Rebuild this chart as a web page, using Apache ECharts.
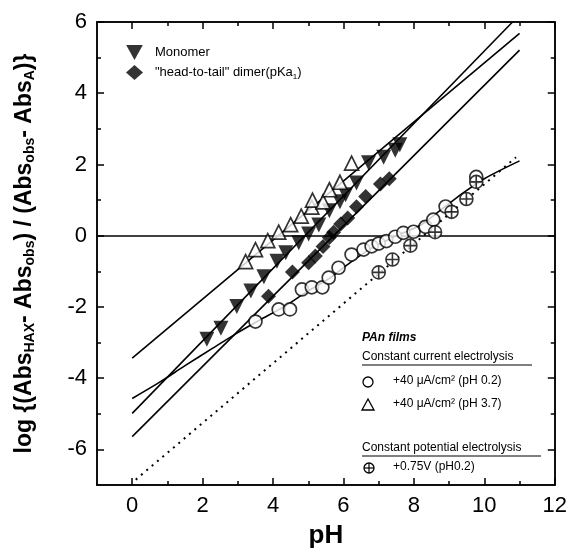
<!DOCTYPE html>
<html><head><meta charset="utf-8">
<script src="https://cdn.jsdelivr.net/npm/echarts@6/dist/echarts.min.js"></script>
<style>html,body{margin:0;padding:0;background:#fff}#c{width:570px;height:554px}</style>
</head><body><div id="c"></div>
<script>
// ---- data ----
var xMajorTicks = [0, 2, 4, 6, 8, 10, 12];
var xMinorTicks = [1, 3, 5, 7, 9, 11];
var yMajorTicks = [-6, -4, -2, 0, 2, 4, 6];
var yMinorTicks = [-5, -3, -1, 1, 3, 5];

var monomer = [[2.12,-2.91],[2.52,-2.6],[2.97,-1.99],[3.37,-1.55],[3.74,-1.15],[4.11,-0.72],[4.36,-0.48],[4.73,-0.2],[5.01,0.05],[5.3,0.3],[5.6,0.7],[5.9,0.95],[6.06,1.15],[6.37,1.48],[6.71,2.05],[7.14,2.2],[7.47,2.4],[7.6,2.55]];
var dimer = [[3.87,-1.7],[4.55,-1.02],[5.01,-0.76],[5.2,-0.57],[5.42,-0.3],[5.6,-0.05],[5.72,0.1],[5.92,0.33],[6.12,0.5],[6.37,0.81],[6.63,1.1],[7.05,1.45],[7.3,1.6]];
var openTri = [[3.22,-0.73],[3.5,-0.39],[3.85,-0.14],[4.16,0.1],[4.5,0.31],[4.8,0.55],[5.1,0.8],[5.12,1.0],[5.42,0.95],[5.6,1.29],[5.9,1.5],[6.23,2.04]];
var circles = [[3.5,-2.41],[4.16,-2.07],[4.48,-2.07],[4.82,-1.51],[5.1,-1.45],[5.4,-1.45],[5.58,-1.18],[5.86,-0.9],[6.23,-0.53],[6.57,-0.39],[6.8,-0.3],[7.0,-0.22],[7.22,-0.15],[7.47,-0.03],[7.7,0.08],[7.99,0.11],[8.33,0.25],[8.55,0.45],[8.9,0.82],[9.77,1.65]];
var crossCircles = [[7.0,-1.03],[7.39,-0.67],[7.9,-0.28],[8.6,0.1],[9.07,0.67],[9.49,1.03],[9.77,1.51]];

var fitOpenTri = [[0,-3.44],[11,5.68]];
var fitMonomer = [[0,-4.99],[10.8,6]];
var fitDimer = [[0,-5.64],[11,5.21]];
var fitCircles = [[0,-4.57],[0.77,-4.12],[1.5,-3.65],[2.3,-3.15],[3.0,-2.72],[3.6,-2.38],[4.3,-2.0],[5.0,-1.55],[5.6,-1.2],[6.2,-0.75],[6.8,-0.35],[7.5,0.0],[8.2,0.3],[8.8,0.75],[9.4,1.2],[10.0,1.6],[11,2.1]];
var fitCrossDotted = [[0.1,-6.85],[10.9,2.2]];

// ---- chart ----
var FONT = '"Liberation Sans", Arial, sans-serif';
var crossPath = 'path://M0,-10A10,10 0 1,1 0,10A10,10 0 1,1 0,-10ZM-10,0L10,0M0,-10L0,10';
var downTri = 'path://M0,0L20,0L10,18Z';
var chart = echarts.init(document.getElementById('c'));
var lineCol = '#000';

function xAx(pos, ticks, len, extra) {
  return Object.assign({
    type: 'value', position: pos, min: -1, max: 12, gridIndex: 0,
    axisLine: {onZero: false, show: true, lineStyle: {color: lineCol, width: 1.5}},
    axisTick: {inside: true, length: len, customValues: ticks, lineStyle: {color: lineCol, width: 1.5}},
    axisLabel: {show: false},
    splitLine: {show: false}
  }, extra || {});
}
function yAx(pos, ticks, len, extra) {
  return Object.assign({
    type: 'value', position: pos, min: -7, max: 6, gridIndex: 0,
    axisLine: {onZero: false, show: true, lineStyle: {color: lineCol, width: 1.5}},
    axisTick: {inside: true, length: len, customValues: ticks, lineStyle: {color: lineCol, width: 1.5}},
    axisLabel: {show: false},
    splitLine: {show: false}
  }, extra || {});
}

var option = {
  animation: false,
  backgroundColor: '#fff',
  textStyle: {fontFamily: FONT},
  grid: {left: 97, right: 14, top: 22, bottom: 68},
  legend: {
    orient: 'vertical', left: 121, top: 40, itemWidth: 17, itemHeight: 15, itemGap: 5,
    data: [{name: 'Monomer', icon: downTri}, {name: 'dimer', icon: 'diamond'}],
    formatter: function (n) { return n === 'Monomer' ? 'Monomer' : '"head-to-tail" dimer(pKa{sub|1})'; },
    textStyle: {fontFamily: FONT, fontSize: 13, color: '#000', padding: [0, 0, 0, 7],
      rich: {sub: {fontFamily: FONT, fontSize: 8, padding: [8, 0, 0, 0], color: '#000'}}}
  },
  xAxis: [
    xAx('bottom', xMajorTicks, 7, {
      axisLabel: {show: true, customValues: xMajorTicks, fontSize: 22, color: '#000', margin: 10, fontFamily: FONT},
      name: 'pH', nameLocation: 'middle', nameGap: 38,
      nameTextStyle: {fontSize: 26, fontWeight: 'bold', color: '#000', fontFamily: FONT}
    }),
    xAx('bottom', xMinorTicks, 4),
    xAx('top', xMajorTicks, 7),
    xAx('top', xMinorTicks, 4)
  ],
  yAxis: [
    yAx('left', yMajorTicks, 7, {
      axisLabel: {show: true, customValues: yMajorTicks, fontSize: 22, color: '#000', margin: 10, fontFamily: FONT},
      name: 'log {(Abs{s|HAX}- Abs{s|obs}) / (Abs{s|obs}- Abs{s|A})}',
      nameLocation: 'middle', nameGap: 60, nameRotate: 90,
      nameTextStyle: {fontSize: 23, fontWeight: 'bold', color: '#000', fontFamily: FONT,
        rich: {s: {fontSize: 14, fontWeight: 'bold', color: '#000', fontFamily: FONT, padding: [11, 0, 0, 0]}}}
    }),
    yAx('left', yMinorTicks, 4),
    yAx('right', yMajorTicks, 7),
    yAx('right', yMinorTicks, 4)
  ],
  series: [
    {type: 'line', name: 'fitOpenTri', data: fitOpenTri, showSymbol: false, silent: true,
      lineStyle: {color: '#000', width: 1.6}, z: 2,
      markLine: {silent: true, symbol: 'none', label: {show: false},
        lineStyle: {color: '#000', width: 1.5, type: 'solid'}, data: [{yAxis: 0}]}},
    {type: 'line', name: 'fitMonomer', data: fitMonomer, showSymbol: false, silent: true,
      lineStyle: {color: '#000', width: 1.6}, z: 2},
    {type: 'line', name: 'fitDimer', data: fitDimer, showSymbol: false, silent: true,
      lineStyle: {color: '#000', width: 1.6}, z: 2},
    {type: 'line', name: 'fitCircles', data: fitCircles, showSymbol: false, silent: true, smooth: 0.3,
      lineStyle: {color: '#000', width: 1.6}, z: 2},
    {type: 'line', name: 'fitCross', data: fitCrossDotted, showSymbol: false, silent: true,
      lineStyle: {color: '#000', width: 2, type: [2, 5]}, z: 2},
    {type: 'scatter', name: 'Monomer', data: monomer, symbol: 'triangle', symbolRotate: 180, symbolSize: 15,
      itemStyle: {color: '#000'}, z: 5},
    {type: 'scatter', name: 'dimer', data: dimer, symbol: 'diamond', symbolSize: 15,
      itemStyle: {color: '#000'}, z: 5},
    {type: 'scatter', name: 'openTri', data: openTri, symbol: 'triangle', symbolSize: 14,
      itemStyle: {color: '#fff', borderColor: '#000', borderWidth: 1.7}, z: 6},
    {type: 'scatter', name: 'circles', data: circles, symbol: 'circle', symbolSize: 13,
      itemStyle: {color: '#fff', borderColor: '#000', borderWidth: 1.7}, z: 6},
    {type: 'scatter', name: 'cross', data: crossCircles, symbol: crossPath, symbolSize: 13,
      itemStyle: {color: '#fff', borderColor: '#000', borderWidth: 1.6}, z: 7}
  ],
  graphic: [
    {type: 'text', left: 362, top: 332, style: {text: 'PAn films', font: 'italic bold 12px ' + FONT, fill: '#000'}},
    {type: 'text', left: 362, top: 351, style: {text: 'Constant current electrolysis', font: '12px ' + FONT, fill: '#000'}},
    {type: 'line', shape: {x1: 362, y1: 365, x2: 532, y2: 365}, style: {stroke: '#000', lineWidth: 1}},
    {type: 'circle', shape: {cx: 368, cy: 382, r: 5}, style: {fill: '#fff', stroke: '#000', lineWidth: 1.3}},
    {type: 'text', left: 393, top: 375, style: {text: '+40 \u03bcA/cm\u00b2 (pH 0.2)', font: '12px ' + FONT, fill: '#000'}},
    {type: 'polygon', shape: {points: [[368, 399], [374, 410], [362, 410]]}, style: {fill: '#fff', stroke: '#000', lineWidth: 1.3}},
    {type: 'text', left: 393, top: 398, style: {text: '+40 \u03bcA/cm\u00b2 (pH 3.7)', font: '12px ' + FONT, fill: '#000'}},
    {type: 'text', left: 362, top: 442, style: {text: 'Constant potential electrolysis', font: '12px ' + FONT, fill: '#000'}},
    {type: 'line', shape: {x1: 362, y1: 456, x2: 541, y2: 456}, style: {stroke: '#000', lineWidth: 1}},
    {type: 'circle', shape: {cx: 369, cy: 468, r: 5}, style: {fill: '#fff', stroke: '#000', lineWidth: 1.3}},
    {type: 'line', shape: {x1: 364, y1: 468, x2: 374, y2: 468}, style: {stroke: '#000', lineWidth: 1.2}},
    {type: 'line', shape: {x1: 369, y1: 463, x2: 369, y2: 473}, style: {stroke: '#000', lineWidth: 1.2}},
    {type: 'text', left: 393, top: 461, style: {text: '+0.75V (pH0.2)', font: '12px ' + FONT, fill: '#000'}}
  ]
};
chart.setOption(option);
</script></body></html>
